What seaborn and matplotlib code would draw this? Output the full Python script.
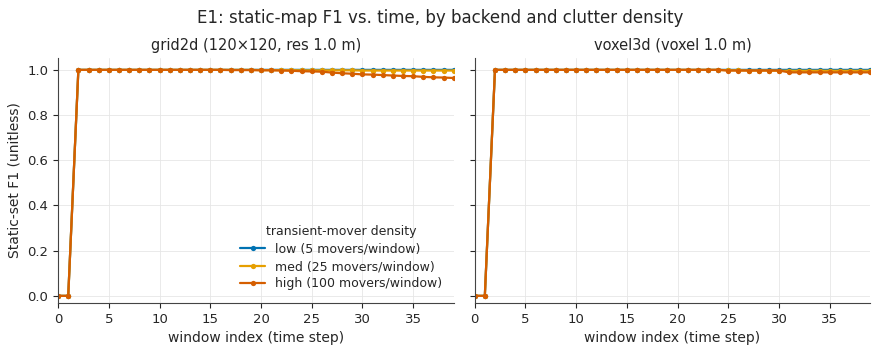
import numpy as np
import pandas as pd
import matplotlib
matplotlib.use("Agg")
import matplotlib.pyplot as plt
import seaborn as sns

# window index 0..39
windows = list(range(40))

# static-set F1 per window, grid2d backend
grid_low = [0.0, 0.0] + [1.0] * 38
grid_med = [0.0, 0.0] + [1.0] * 18 + [0.999, 0.999, 0.999, 0.999, 0.998, 0.998, 0.998, 0.998,
                                      0.998, 0.998, 0.997, 0.997, 0.997, 0.997, 0.997, 0.997,
                                      0.997, 0.997, 0.997, 0.997]
grid_high = [0.0, 0.0] + [1.0] * 15 + [0.999, 0.999, 0.999, 0.998, 0.998, 0.997, 0.996, 0.994,
                                       0.993, 0.992, 0.988, 0.985, 0.983, 0.980, 0.979, 0.977,
                                       0.975, 0.973, 0.972, 0.969, 0.967, 0.966, 0.964]

# voxel3d backend
vox_low = [0.0, 0.0] + [1.0] * 38
vox_med = [0.0, 0.0] + [1.0] * 23 + [0.998, 0.998, 0.997, 0.997, 0.997, 0.996, 0.996, 0.996,
                                     0.996, 0.996, 0.996, 0.996, 0.996, 0.996, 0.996]
vox_high = [0.0, 0.0] + [1.0] * 23 + [0.997, 0.997, 0.997, 0.997, 0.997, 0.997, 0.989, 0.989,
                                      0.989, 0.989, 0.989, 0.989, 0.989, 0.989, 0.989]

density_labels = ["low (5 movers/window)", "med (25 movers/window)", "high (100 movers/window)"]
colors = ["#0072B2", "#E69F00", "#D55E00"]
panel_titles = ["grid2d (120×120, res 1.0 m)", "voxel3d (voxel 1.0 m)"]

rows = []
for backend, series in [("grid2d", [grid_low, grid_med, grid_high]),
                        ("voxel3d", [vox_low, vox_med, vox_high])]:
    for lab, vals in zip(density_labels, series):
        for w, v in zip(windows, vals):
            rows.append({"backend": backend, "density": lab, "window": w, "f1": v})
df = pd.DataFrame(rows)

sns.set_style("ticks")
plt.rcParams["font.family"] = ["DejaVu Sans"]

fig, axes = plt.subplots(1, 2, figsize=(8.8, 3.53), dpi=100, sharey=True)

for ax, backend, title in zip(axes, ["grid2d", "voxel3d"], panel_titles):
    sub = df[df["backend"] == backend]
    sns.lineplot(data=sub, x="window", y="f1", hue="density", hue_order=density_labels,
                 palette=colors, marker="o", markersize=3.8, markeredgewidth=0,
                 linewidth=1.6, ax=ax, legend=(backend == "grid2d"))
    ax.set_title(title, fontsize=10.5)
    ax.set_xlabel("window index (time step)", fontsize=10)
    ax.set_xlim(0, 39)
    ax.set_ylim(-0.031, 1.053)
    ax.set_xticks(range(0, 40, 5))
    ax.grid(True, color="#e6e6e6", linewidth=0.6)
    ax.set_axisbelow(True)
    ax.tick_params(labelsize=9.5)
    sns.despine(ax=ax)
    for sp in ["left", "bottom"]:
        ax.spines[sp].set_color("#444444")

axes[0].set_ylabel("Static-set F1 (unitless)", fontsize=10)
axes[1].set_ylabel("")
axes[1].tick_params(labelleft=False)

leg = axes[0].legend(title="transient-mover density", loc="lower right",
                     frameon=False, fontsize=9, title_fontsize=9,
                     labelspacing=0.35, bbox_to_anchor=(1.0, 0.005))

fig.suptitle("E1: static-map F1 vs. time, by backend and clutter density", fontsize=12, y=0.975)
fig.subplots_adjust(left=0.066, right=0.989, top=0.836, bottom=0.142, wspace=0.053)
fig.savefig("out.png", dpi=100)
